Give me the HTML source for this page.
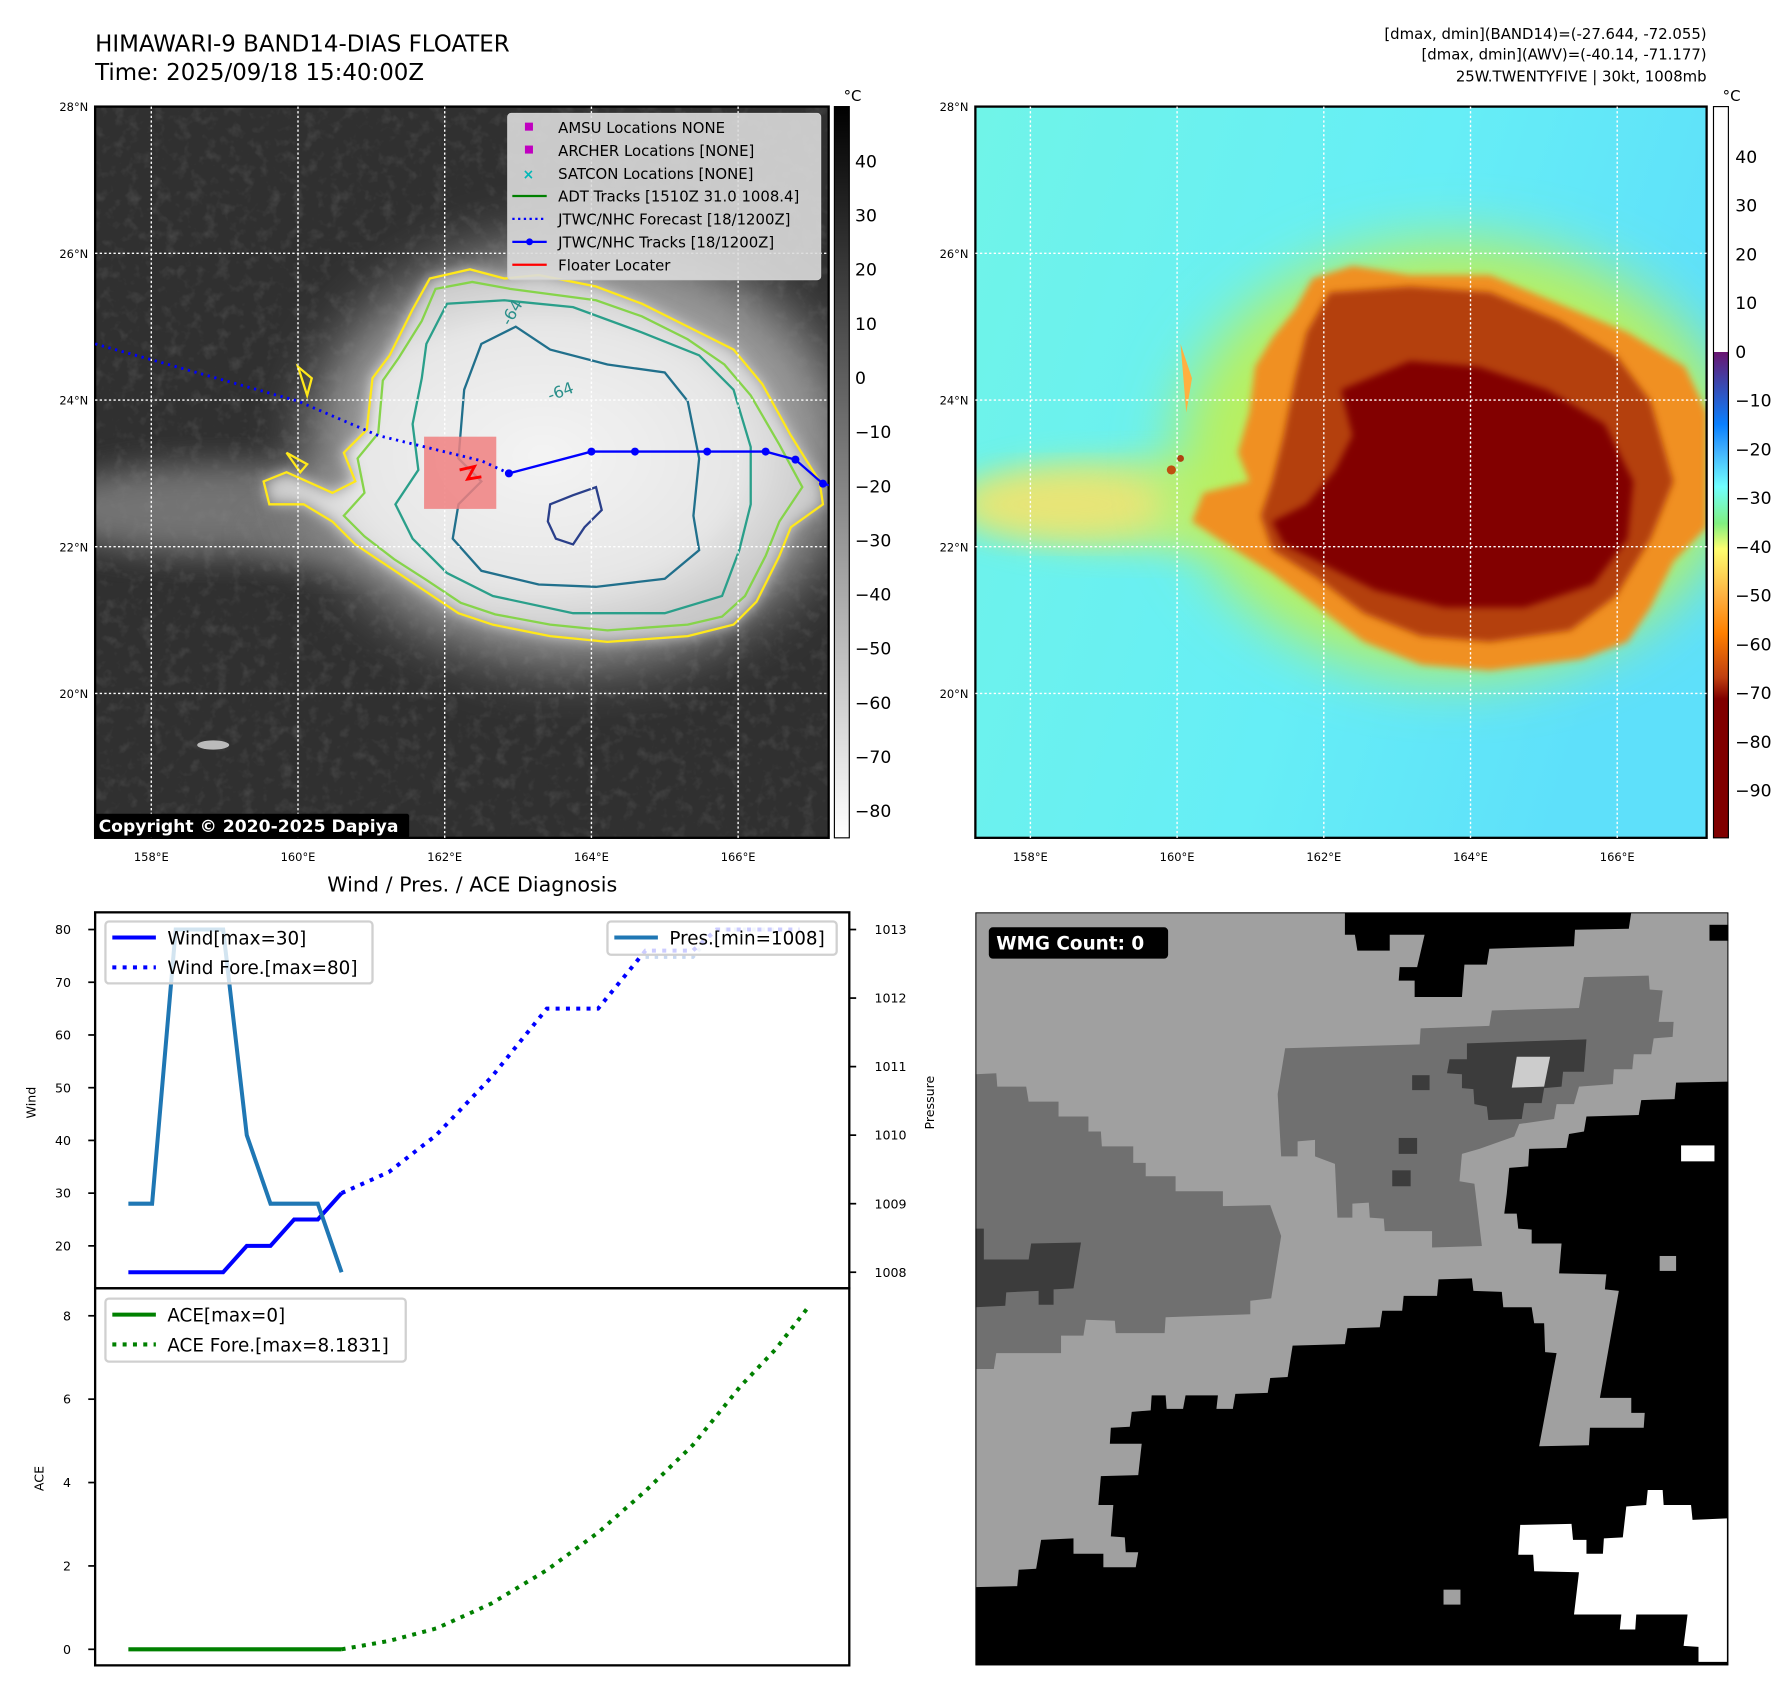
<!DOCTYPE html>
<html><head><meta charset="utf-8"><style>
html,body{margin:0;padding:0;background:#fff;width:1788px;height:1695px;overflow:hidden}
#root{position:absolute;left:0;top:0;width:1560px;height:1479px;transform:scale(1.14615);transform-origin:0 0;font-family:"Liberation Sans","DejaVu Sans",sans-serif}
svg text{font-family:"DejaVu Sans","Liberation Sans",sans-serif}
</style></head><body>
<div id="root">
<svg id="fig" width="1560" height="1479" viewBox="0 0 1560 1479" xmlns="http://www.w3.org/2000/svg">
<defs>
<filter id="b4" x="-30%" y="-30%" width="160%" height="160%"><feGaussianBlur stdDeviation="3"/></filter>
<filter id="b6" x="-30%" y="-30%" width="160%" height="160%"><feGaussianBlur stdDeviation="6"/></filter>
<filter id="b14" x="-30%" y="-30%" width="160%" height="160%"><feGaussianBlur stdDeviation="14"/></filter>
<filter id="b25" x="-50%" y="-50%" width="200%" height="200%"><feGaussianBlur stdDeviation="25"/></filter>
<filter id="noise"><feTurbulence type="fractalNoise" baseFrequency="0.09" numOctaves="3" seed="4"/><feColorMatrix type="matrix" values="0 0 0 0 0.5  0 0 0 0 0.5  0 0 0 0 0.5  0 0 0 1.2 -0.6"/></filter>
<linearGradient id="cbL" x1="0" y1="0" x2="0" y2="1"><stop offset="0" stop-color="#000"/><stop offset="1" stop-color="#fff"/></linearGradient>
<linearGradient id="cbR" x1="0" y1="0" x2="0" y2="1">
<stop offset="0" stop-color="#fff"/><stop offset="0.3356" stop-color="#fff"/><stop offset="0.3357" stop-color="#6a1570"/>
<stop offset="0.38" stop-color="#3a48b0"/><stop offset="0.435" stop-color="#0a80ff"/><stop offset="0.47" stop-color="#40b0ff"/>
<stop offset="0.52" stop-color="#70ffff"/><stop offset="0.57" stop-color="#80f080"/><stop offset="0.605" stop-color="#ffff70"/>
<stop offset="0.67" stop-color="#ffb040"/><stop offset="0.72" stop-color="#ff8000"/><stop offset="0.78" stop-color="#c04010"/>
<stop offset="0.81" stop-color="#800000"/><stop offset="1" stop-color="#800000"/></linearGradient>
<radialGradient id="cloud" cx="0.5" cy="0.5" r="0.5"><stop offset="0" stop-color="#f4f4f4"/><stop offset="0.7" stop-color="#e6e6e6"/><stop offset="1" stop-color="#c8c8c8"/></radialGradient>
<linearGradient id="skyR" x1="0" y1="0" x2="1" y2="0.3"><stop offset="0" stop-color="#70f4e8"/><stop offset="0.6" stop-color="#66eef6"/><stop offset="1" stop-color="#5ee0fa"/></linearGradient>
<clipPath id="clipL"><rect x="83" y="93" width="640" height="638"/></clipPath>
<clipPath id="clipR"><rect x="851" y="93" width="638" height="638"/></clipPath>
</defs>

<text x="83" y="45" font-size="20">HIMAWARI-9 BAND14-DIAS FLOATER</text>
<text x="83" y="70" font-size="20">Time: 2025/09/18 15:40:00Z</text>
<g font-size="13" text-anchor="end">
<text x="1489" y="34">[dmax, dmin](BAND14)=(-27.644, -72.055)</text>
<text x="1489" y="52">[dmax, dmin](AWV)=(-40.14, -71.177)</text>
<text x="1489" y="71">25W.TWENTYFIVE | 30kt, 1008mb</text>
</g>

<g clip-path="url(#clipL)">
<rect x="83" y="93" width="640" height="638" fill="#303030"/>
<rect x="83" y="93" width="640" height="638" filter="url(#noise)" opacity="0.3"/>
<ellipse cx="200" cy="445" rx="170" ry="40" fill="#8a8a8a" filter="url(#b14)" opacity="0.75"/>
<ellipse cx="330" cy="470" rx="110" ry="30" fill="#777" filter="url(#b14)" opacity="0.7"/>
<ellipse cx="505" cy="395" rx="235" ry="185" fill="#9a9a9a" filter="url(#b25)"/>
<path d="M360,270 L375,243 L410,235 L440,243 L470,240 L520,250 L560,265 L600,285 L640,305 L665,335 L690,380 L715,420 L718,440 L690,460 L680,485 L660,525 L640,545 L600,555 L530,560 L480,555 L430,545 L400,535 L370,515 L340,495 L310,475 L290,455 L265,440 L235,440 L230,420 L250,412 L290,430 L310,420 L300,395 L320,375 L325,330 L340,310 Z" fill="url(#cloud)" filter="url(#b6)"/>
<path d="M360,270 L375,243 L410,235 L440,243 L470,240 L520,250 L560,265 L600,285 L640,305 L665,335 L690,380 L715,420 L718,440 L690,460 L680,485 L660,525 L640,545 L600,555 L530,560 L480,555 L430,545 L400,535 L370,515 L340,495 L310,475 L290,455 L265,440 L235,440 L230,420 L250,412 L290,430 L310,420 L300,395 L320,375 L325,330 L340,310 Z" fill="none" stroke="#ffe81a" stroke-width="2"/>
<path d="M368,280 L380,252 L412,246 L445,252 L520,262 L560,276 L600,296 L632,318 L655,345 L680,388 L700,425 L680,455 L668,485 L650,520 L630,538 L600,545 L530,550 L480,545 L432,536 L402,526 L372,506 L344,488 L318,468 L300,450 L318,430 L312,400 L330,378 L334,332 L348,312 Z" fill="none" stroke="#86d44a" stroke-width="2"/>
<path d="M372,300 L390,265 L440,262 L500,268 L560,290 L610,310 L640,340 L655,390 L655,440 L645,480 L630,520 L580,535 L500,535 L430,520 L390,500 L360,470 L345,440 L365,410 L360,370 L368,330 Z" fill="none" stroke="#2a9f8a" stroke-width="2"/>
<path d="M420,300 L450,285 L480,305 L530,318 L580,325 L600,350 L610,400 L605,450 L610,480 L580,505 L520,512 L470,510 L420,498 L395,470 L400,440 L420,420 L400,400 L405,340 Z" fill="none" stroke="#21708c" stroke-width="2"/>
<path d="M480,440 L500,432 L520,425 L525,445 L510,460 L500,475 L485,470 L478,455 Z" fill="none" stroke="#2a3f8a" stroke-width="2"/>
<path d="M260,320 L268,345 L272,330 Z M250,395 L262,412 L268,405 Z" fill="none" stroke="#ffe81a" stroke-width="2"/>
<ellipse cx="186" cy="650" rx="14" ry="4" fill="#bbb"/>
<text x="445" y="285" font-size="14" fill="#2a8f8a" transform="rotate(-60 445 285)">-64</text>
<text x="480" y="350" font-size="14" fill="#2a8f8a" transform="rotate(-20 480 350)">-64</text>
</g>
<rect x="83" y="93" width="640" height="638" fill="none" stroke="#000" stroke-width="2"/>
<g id="gridL"></g>
<g clip-path="url(#clipL)">
<rect x="370" y="381" width="63" height="63" fill="#f08080" opacity="0.85"/>
<path d="M401,410 L414,407 L408,418 L420,416" fill="none" stroke="#ff0000" stroke-width="2.5"/>
<polyline points="83,300 260,350 330,380 420,402 444,413" fill="none" stroke="#0000ff" stroke-width="2.5" stroke-dasharray="2 4"/>
<polyline points="444,413 516,394 554,394 617,394 668,394 694,401 718,422 730,425" fill="none" stroke="#0000ff" stroke-width="2"/>
<g fill="#0000ff"><circle cx="444" cy="413" r="3.5"/><circle cx="516" cy="394" r="3.5"/><circle cx="554" cy="394" r="3.5"/><circle cx="617" cy="394" r="3.5"/><circle cx="668" cy="394" r="3.5"/><circle cx="694" cy="401" r="3.5"/><circle cx="718" cy="422" r="3.5"/></g>
</g>
<g>
<rect x="443" y="99" width="273" height="145" rx="3" fill="#dcdcdc" fill-opacity="0.9" stroke="#cfcfcf"/>
<g font-size="13">
<rect x="458" y="107" width="7" height="7" fill="#c000c0"/><text x="487" y="116">AMSU Locations NONE</text>
<rect x="458" y="127" width="7" height="7" fill="#c000c0"/><text x="487" y="136">ARCHER Locations [NONE]</text>
<text x="456" y="156" fill="#00b8b8" font-size="12" font-weight="bold">×</text><text x="487" y="156">SATCON Locations [NONE]</text>
<line x1="447" y1="171" x2="477" y2="171" stroke="#008000" stroke-width="2"/><text x="487" y="176">ADT Tracks [1510Z 31.0 1008.4]</text>
<line x1="447" y1="191" x2="477" y2="191" stroke="#0000ff" stroke-width="2" stroke-dasharray="2 3"/><text x="487" y="196">JTWC/NHC Forecast [18/1200Z]</text>
<line x1="447" y1="211" x2="477" y2="211" stroke="#0000ff" stroke-width="2"/><circle cx="462" cy="211" r="3" fill="#0000ff"/><text x="487" y="216">JTWC/NHC Tracks [18/1200Z]</text>
<line x1="447" y1="231" x2="477" y2="231" stroke="#ff0000" stroke-width="2"/><text x="487" y="236">Floater Locater</text>
</g></g>
<rect x="82" y="710" width="275" height="21" rx="2" fill="#000"/>
<text x="86" y="726" font-size="15" font-weight="bold" fill="#fff">Copyright © 2020-2025 Dapiya</text>
<rect x="728" y="93" width="13" height="638" fill="url(#cbL)" stroke="#000"/>
<text x="736" y="88" font-size="13">°C</text>
<g id="cbLticks"></g>

<g clip-path="url(#clipR)">
<rect x="851" y="93" width="638" height="638" fill="url(#skyR)"/>
<ellipse cx="1000" cy="440" rx="170" ry="40" fill="#c8f070" filter="url(#b14)" opacity="0.8"/>
<ellipse cx="930" cy="440" rx="90" ry="28" fill="#ffe070" filter="url(#b14)" opacity="0.7"/>
<ellipse cx="1270" cy="400" rx="245" ry="190" fill="#b8f060" filter="url(#b25)"/>
<path d="M1130,270 L1145,243 L1180,232 L1230,240 L1300,240 L1360,265 L1420,290 L1470,320 L1489,360 L1489,460 L1460,490 L1440,530 L1420,560 L1380,575 L1300,585 L1240,580 L1190,560 L1150,530 L1110,500 L1070,475 L1040,455 L1050,430 L1090,420 L1080,395 L1090,360 L1095,320 L1110,295 Z" fill="#f09020" filter="url(#b4)"/>
<path d="M1140,290 L1160,255 L1230,250 L1300,255 L1360,280 L1410,310 L1440,350 L1460,420 L1440,470 L1410,520 L1370,550 L1300,560 L1240,555 L1190,535 L1150,505 L1110,480 L1100,450 L1110,420 L1120,380 L1130,330 Z" fill="#b44010" filter="url(#b4)"/>
<path d="M1170,340 L1230,315 L1290,320 L1350,340 L1400,370 L1425,420 L1420,470 L1390,510 L1330,530 L1260,530 L1200,515 L1160,495 L1120,475 L1110,455 L1140,440 L1165,410 L1180,380 Z" fill="#820000" filter="url(#b4)"/>
<circle cx="1030" cy="400" r="3" fill="#b04010"/><circle cx="1022" cy="410" r="4" fill="#c05010"/>
<path d="M1030,300 L1040,330 L1035,360 Z" fill="#ffb040"/>
</g>
<rect x="851" y="93" width="638" height="638" fill="none" stroke="#000" stroke-width="2"/>
<g id="gridR"></g>
<rect x="1495" y="93" width="13" height="638" fill="url(#cbR)" stroke="#000"/>
<text x="1503" y="88" font-size="13">°C</text>
<g id="cbRticks"></g>

<text x="412" y="778" font-size="18" text-anchor="middle">Wind / Pres. / ACE Diagnosis</text>
<g id="chart"></g>

<svg x="851" y="796" width="657" height="657" viewBox="18 15 1512 1512">
<rect x="18" y="15" width="1512" height="1512" fill="#a0a0a0"/>
<g fill="#000">
<polygon points="760,15 1335,15 1330,48 1222,50 1220,83 1050,88 1045,120 1000,120 995,185 900,185 900,152 868,152 870,125 905,125 920,60 850,60 850,92 785,92 780,60 760,60"/>
<rect x="1492" y="40" width="38" height="32"/>
<polygon points="18,1370 102,1368 105,1335 140,1333 150,1275 215,1272 215,1303 275,1303 275,1330 340,1330 345,1300 320,1300 318,1270 290,1268 295,1205 265,1205 270,1147 345,1145 352,1082 288,1082 290,1050 328,1048 332,1018 370,1015 372,985 400,985 402,1012 435,1012 440,985 505,985 502,1012 535,1012 540,982 605,980 610,950 645,948 655,885 760,882 765,850 830,848 835,815 875,815 878,785 945,785 948,752 1015,750 1018,775 1075,777 1078,808 1135,808 1140,840 1160,840 1162,898 1185,900 1150,1087 1250,1085 1252,1050 1360,1050 1362,1020 1335,1020 1335,990 1272,990 1310,775 1282,772 1285,742 1190,740 1195,680 1135,680 1135,652 1108,650 1105,620 1080,620 1085,580 1090,528 1128,525 1130,490 1205,488 1210,460 1240,455 1245,425 1350,422 1355,392 1422,390 1425,357 1530,355 1530,1527 18,1527"/>
</g>
<polygon fill="#707070" points="640,288 910,280 912,248 1050,243 1055,212 1230,207 1240,145 1370,142 1372,170 1398,172 1390,235 1420,235 1418,265 1380,268 1375,300 1340,300 1337,330 1300,330 1298,360 1230,365 1220,400 1185,400 1180,430 1110,440 1100,465 1030,490 995,500 990,555 1020,560 1035,685 935,688 935,655 840,655 838,630 810,628 808,598 775,600 775,628 745,628 740,520 700,505 700,472 665,475 665,505 632,505 625,380"/>
<polygon fill="#3c3c3c" points="1005,278 1245,270 1240,335 1198,335 1195,365 1160,368 1155,398 1120,398 1115,430 1048,432 1045,405 1020,400 1018,370 995,368 995,340 965,338 970,310 1005,310"/>
<polygon fill="#cccccc" points="1105,305 1172,305 1160,365 1095,367"/>
<g fill="#3c3c3c"><rect x="895" y="342" width="35" height="30"/><rect x="868" y="468" width="37" height="32"/><rect x="855" y="533" width="37" height="32"/></g>
<polygon fill="#707070" points="18,340 60,338 62,365 120,365 125,395 185,395 185,425 245,425 245,455 270,455 272,485 335,485 335,518 360,518 360,545 420,545 420,575 515,575 515,605 610,603 632,665 612,790 570,795 570,822 400,828 398,860 300,860 298,835 240,833 235,865 190,865 190,900 60,900 55,932 18,932"/>
<polygon fill="#3c3c3c" points="18,650 35,650 35,712 125,712 130,680 230,678 215,770 175,772 175,803 145,803 145,775 80,778 78,805 18,808"/>
<g fill="#a0a0a0"><rect x="1392" y="705" width="33" height="30"/><rect x="958" y="1375" width="34" height="30"/></g>
<g fill="#fff"><rect x="1435" y="483" width="67" height="32"/>
<polygon points="1112,1245 1215,1243 1218,1275 1245,1275 1245,1303 1278,1303 1280,1272 1318,1270 1325,1208 1365,1205 1368,1175 1398,1175 1400,1205 1455,1205 1458,1235 1527,1232 1527,1520 1470,1520 1470,1490 1440,1488 1448,1425 1345,1425 1343,1455 1312,1455 1315,1425 1220,1425 1230,1340 1140,1338 1138,1305 1108,1305"/></g>
<rect x="45" y="45" width="360" height="63" rx="8" fill="#000"/>
<text x="60" y="90" font-size="37" font-weight="bold" fill="#fff">WMG Count: 0</text>
<rect x="18" y="15" width="1512" height="1512" fill="none" stroke="#000" stroke-width="4"/>
</svg>
</svg>
</div>
<script>
var obsHours = [0, 6, 12, 18, 24, 30, 36, 42, 48, 54];
var windObs = [15, 15, 15, 15, 15, 20, 20, 25, 25, 30];
var presObs = [1009, 1009, 1013, 1013, 1013, 1010, 1009, 1009, 1009, 1008];
var fcHours = [54, 66, 78, 92, 106, 119, 131, 143, 149, 170];
var windFc = [30, 34, 41, 52, 65, 65, 76, 76, 80, 80];
var presFcHours = [131, 143, 149, 170];
var presFc = [1012.6, 1012.6, 1013, 1013];
var aceObs = [0, 0, 0, 0, 0, 0, 0, 0, 0, 0];
var aceHours = [54, 66, 78, 92, 106, 119, 131, 143, 155, 164, 172];
var aceFc = [0, 0.2, 0.5, 1.1, 1.9, 2.8, 3.8, 4.9, 6.3, 7.2, 8.18];
var windTicks = [20, 30, 40, 50, 60, 70, 80];
var presTicks = [1008, 1009, 1010, 1011, 1012, 1013];
var aceTicks = [0, 2, 4, 6, 8];
var latTicks = [28, 26, 24, 22, 20];
var lonTicks = [158, 160, 162, 164, 166];
var cbLeftTicks = [40, 30, 20, 10, 0, -10, -20, -30, -40, -50, -60, -70, -80];
var cbRightTicks = [40, 30, 20, 10, 0, -10, -20, -30, -40, -50, -60, -70, -80, -90];

var NS = 'http://www.w3.org/2000/svg';
function mk(parent, tag, attrs, txt) {
  var e = document.createElementNS(NS, tag);
  for (var k in attrs) e.setAttribute(k, attrs[k]);
  if (txt !== undefined) e.textContent = txt;
  parent.appendChild(e); return e;
}
function xT(t) { return 112 + 3.444 * t; }
function yW(v) { return 811 + (80 - v) * 4.6; }
function yP(p) { return 811 + (1013 - p) * 59.8; }
function yA(v) { return 1439 - v * 36.375; }
function lonXL(l) { return 132 + (l - 158) * 64; }
function lonXR(l) { return 899 + (l - 158) * 64; }
function latY(l) { return 93 + (28 - l) * 64; }
function cbLY(v) { return 141 + (40 - v) * 4.725; }
function cbRY(v) { return 137 + (40 - v) * 4.254; }
function pts(xs, ys, fx, fy) { return xs.map(function (x, i) { return fx(x).toFixed(1) + ',' + fy(ys[i]).toFixed(1); }).join(' '); }

[['gridL', lonXL, 83, 723], ['gridR', lonXR, 851, 1489]].forEach(function (g) {
  var grp = document.getElementById(g[0]);
  lonTicks.forEach(function (l) {
    var ln = mk(grp, 'line', { x1: g[1](l), x2: g[1](l), y1: 93, y2: 731, stroke: '#fff', 'stroke-width': 1.2, 'stroke-dasharray': '2 2' });
    
    
    var t = mk(grp, 'text', { x: g[1](l), y: 751, 'font-size': 10, 'text-anchor': 'middle' }, l + '°E');
    
    
  });
  latTicks.forEach(function (l) {
    if (l !== 28) {
      var ln = mk(grp, 'line', { x1: g[2], x2: g[3], y1: latY(l), y2: latY(l), stroke: '#fff', 'stroke-width': 1.2, 'stroke-dasharray': '2 2' });
      
      
    }
    var t = mk(grp, 'text', { x: g[2] - 6, y: latY(l) + 4, 'font-size': 10, 'text-anchor': 'end' }, l + '°N');
    
    
  });
});
var cbl = document.getElementById('cbLticks');
cbLeftTicks.forEach(function (v) {
  var t = mk(cbl, 'text', { x: 746, y: cbLY(v) + 5, 'font-size': 15 }, v < 0 ? '\u2212' + (-v) : '' + v);
  
  
});
var cbr = document.getElementById('cbRticks');
cbRightTicks.forEach(function (v) {
  var t = mk(cbr, 'text', { x: 1514, y: cbRY(v) + 5, 'font-size': 15 }, v < 0 ? '\u2212' + (-v) : '' + v);
  
  
});

var c = document.getElementById('chart');
var fr1 = mk(c, 'rect', { x: 83, y: 796, width: 658, height: 328, fill: 'none', stroke: '#000', 'stroke-width': 2 });


var fr2 = mk(c, 'rect', { x: 83, y: 1124, width: 658, height: 329, fill: 'none', stroke: '#000', 'stroke-width': 2 });


windTicks.forEach(function (v) {
  mk(c, 'line', { x1: 77, x2: 83, y1: yW(v), y2: yW(v), stroke: '#000', 'stroke-width': 1.5 });
  var t = mk(c, 'text', { x: 62, y: yW(v) + 4, 'font-size': 11, 'text-anchor': 'end' }, '' + v);
  
  
});
presTicks.forEach(function (v) {
  mk(c, 'line', { x1: 741, x2: 747, y1: yP(v), y2: yP(v), stroke: '#000', 'stroke-width': 1.5 });
  var t = mk(c, 'text', { x: 763, y: yP(v) + 4, 'font-size': 11 }, '' + v);
  
  
});
aceTicks.forEach(function (v) {
  mk(c, 'line', { x1: 77, x2: 83, y1: yA(v), y2: yA(v), stroke: '#000', 'stroke-width': 1.5 });
  var t = mk(c, 'text', { x: 62, y: yA(v) + 4, 'font-size': 11, 'text-anchor': 'end' }, '' + v);
  
  
});
var a1 = mk(c, 'text', { x: 31, y: 962, 'font-size': 11, 'text-anchor': 'middle', transform: 'rotate(-90 31 962)' }, 'Wind');


var a2 = mk(c, 'text', { x: 815, y: 962, 'font-size': 11, 'text-anchor': 'middle', transform: 'rotate(-90 815 962)' }, 'Pressure');


var a3 = mk(c, 'text', { x: 38, y: 1290, 'font-size': 11, 'text-anchor': 'middle', transform: 'rotate(-90 38 1290)' }, 'ACE');



var l;
l = mk(c, 'polyline', { points: pts(presFcHours, presFc, xT, yP), fill: 'none', stroke: '#c8d8f0', 'stroke-width': 3.5, 'stroke-dasharray': '3 5' });


l = mk(c, 'polyline', { points: pts(obsHours, windObs, xT, yW), fill: 'none', stroke: '#0000ff', 'stroke-width': 3.5 });


l = mk(c, 'polyline', { points: pts(fcHours, windFc, xT, yW), fill: 'none', stroke: '#0000ff', 'stroke-width': 3.5, 'stroke-dasharray': '3.5 5.5' });


l = mk(c, 'polyline', { points: pts(obsHours, presObs, xT, yP), fill: 'none', stroke: '#1f77b4', 'stroke-width': 3.5 });


l = mk(c, 'polyline', { points: pts(obsHours, aceObs, xT, yA), fill: 'none', stroke: '#008000', 'stroke-width': 3.5 });


l = mk(c, 'polyline', { points: pts(aceHours, aceFc, xT, yA), fill: 'none', stroke: '#008000', 'stroke-width': 3.5, 'stroke-dasharray': '3.5 5.5' });



function legend(x, y, w, h, items, name) {
  var g = mk(c, 'g', {});
  
  
  mk(g, 'rect', { x: x, y: y, width: w, height: h, rx: 3, fill: '#fff', 'fill-opacity': 0.8, stroke: '#d0d0d0', 'stroke-width': 2 });
  items.forEach(function (it, i) {
    var yy = y + 14 + i * 26;
    var a = { x1: x + 6, x2: x + 44, y1: yy, y2: yy, stroke: it[1], 'stroke-width': 3.5 };
    if (it[2]) a['stroke-dasharray'] = '3.5 5.5';
    mk(g, 'line', a);
    mk(g, 'text', { x: x + 54, y: yy + 6, 'font-size': 16 }, it[0]);
  });
}
legend(92, 804, 233, 54, [['Wind[max=30]', '#0000ff', false], ['Wind Fore.[max=80]', '#0000ff', true]], 'wind-legend');
legend(530, 804, 200, 29, [['Pres.[min=1008]', '#1f77b4', false]], 'pressure-legend');
legend(92, 1133, 262, 55, [['ACE[max=0]', '#008000', false], ['ACE Fore.[max=8.1831]', '#008000', true]], 'ace-legend');
</script>
</body></html>
